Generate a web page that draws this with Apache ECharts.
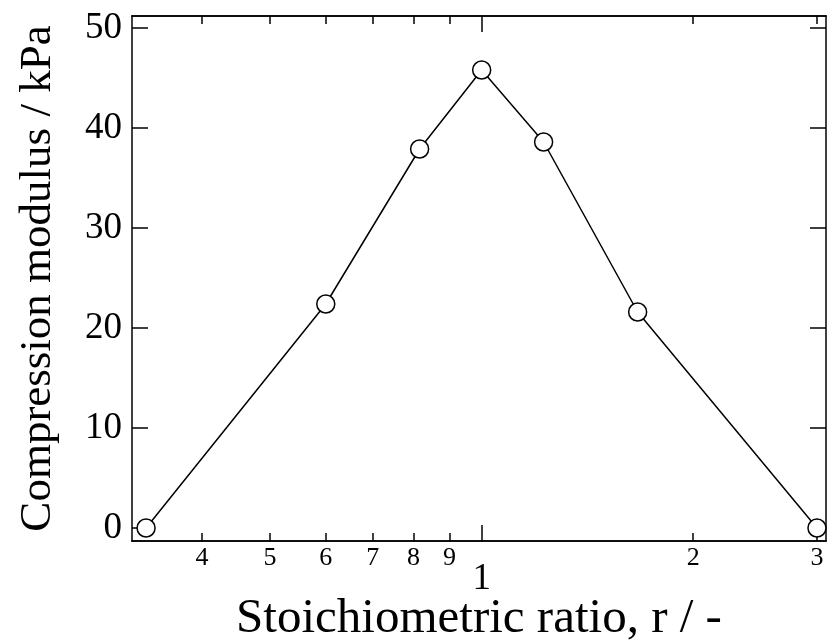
<!DOCTYPE html>
<html>
<head>
<meta charset="utf-8">
<script src="https://cdn.jsdelivr.net/npm/echarts@6/dist/echarts.min.js"></script>
<style>
html,body{margin:0;padding:0;background:#fff;}
#main{width:828px;height:643px;}
</style>
</head>
<body>
<div id="main"></div>
<script>
// Data
const ratio = [0.333, 0.6, 0.816, 1.0, 1.225, 1.667, 3.0];
const modulus = [0.0, 22.4, 37.9, 45.8, 38.6, 21.6, 0.0];
const xMinorTicks = [0.4, 0.5, 0.6, 0.7, 0.8, 0.9, 2, 3];
const xMinorLabels = ['4', '5', '6', '7', '8', '9', '2', '3'];
const xMajorTicks = [1];
const xMajorLabels = ['1'];
const yTicks = [0, 10, 20, 30, 40, 50];
const yLabels = ['0', '10', '20', '30', '40', '50'];

const FONT = '"Liberation Serif", "Times New Roman", serif';
const X_MIN = 0.318, X_MAX = 3.09;
const Y_MIN = -1.3, Y_MAX = 51.2;

function labelFor(ticks, labels) {
  return function (v) {
    for (let i = 0; i < ticks.length; i++) {
      if (Math.abs(ticks[i] - v) < 1e-6) return labels[i];
    }
    return '';
  };
}

const lineStyle = { color: '#000', width: 1.5 };

function xAx(pos, ticks, labels, tickLen, showLabel, fontSize, margin, extra) {
  return Object.assign({
    type: 'log',
    logBase: 10,
    min: X_MIN,
    max: X_MAX,
    position: pos,
    gridIndex: 0,
    axisLine: { show: true, onZero: false, lineStyle: lineStyle },
    axisTick: { show: true, inside: true, length: tickLen, lineStyle: lineStyle, customValues: ticks },
    axisLabel: {
      show: showLabel, customValues: ticks, formatter: labelFor(ticks, labels),
      color: '#000', fontFamily: FONT, fontSize: fontSize, margin: margin
    },
    splitLine: { show: false },
    minorTick: { show: false },
    minorSplitLine: { show: false }
  }, extra || {});
}

const option = {
  animation: false,
  backgroundColor: '#fff',
  grid: { left: 132, right: 2, top: 16, bottom: 102, containLabel: false, outerBoundsMode: 'none' },
  xAxis: [
    xAx('bottom', xMinorTicks, xMinorLabels, 8, true, 26, 4, {
      name: 'Stoichiometric ratio, r / -',
      nameLocation: 'middle',
      nameGap: 54,
      nameTextStyle: { color: '#000', fontFamily: FONT, fontSize: 49 }
    }),
    xAx('bottom', xMajorTicks, xMajorLabels, 16, true, 37, 20),
    xAx('top', xMinorTicks, xMinorLabels, 8, false, 26, 4),
    xAx('top', xMajorTicks, xMajorLabels, 16, false, 37, 20)
  ],
  yAxis: [
    {
      type: 'value', min: Y_MIN, max: Y_MAX, position: 'left',
      axisLine: { show: true, onZero: false, lineStyle: lineStyle },
      axisTick: { show: true, inside: true, length: 16, lineStyle: lineStyle, customValues: yTicks },
      axisLabel: {
        customValues: yTicks, formatter: labelFor(yTicks, yLabels),
        color: '#000', fontFamily: FONT, fontSize: 37, margin: 10
      },
      splitLine: { show: false },
      name: 'Compression modulus / kPa',
      nameLocation: 'middle',
      nameGap: 71,
      nameTextStyle: { color: '#000', fontFamily: FONT, fontSize: 45 }
    },
    {
      type: 'value', min: Y_MIN, max: Y_MAX, position: 'right',
      axisLine: { show: true, onZero: false, lineStyle: lineStyle },
      axisTick: { show: true, inside: true, length: 16, lineStyle: lineStyle, customValues: yTicks },
      axisLabel: { show: false },
      splitLine: { show: false }
    }
  ],
  series: [{
    type: 'line',
    xAxisIndex: 0,
    yAxisIndex: 0,
    data: ratio.map((r, i) => [r, modulus[i]]),
    symbol: 'circle',
    symbolSize: 18,
    showAllSymbol: true,
    lineStyle: { color: '#000', width: 1.5 },
    itemStyle: { color: '#fff', borderColor: '#000', borderWidth: 1.5 },
    z: 3
  }]
};

const chart = echarts.init(document.getElementById('main'), null, { renderer: 'canvas' });
chart.setOption(option);
</script>
</body>
</html>
